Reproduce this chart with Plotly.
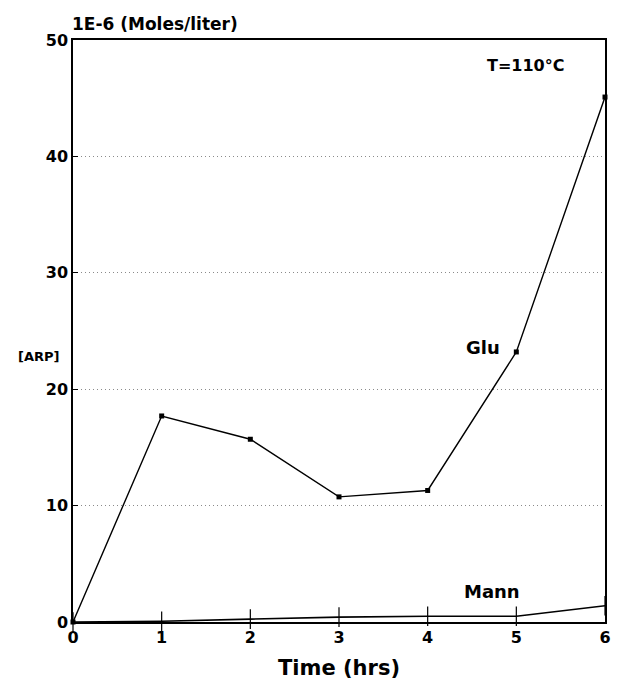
import plotly.graph_objects as go

hours = [0, 1, 2, 3, 4, 5, 6]
glu = [0.0, 17.7, 15.7, 10.75, 11.3, 23.2, 45.1]
mann = [0.0, 0.07, 0.25, 0.42, 0.5, 0.5, 1.4]
y_ticks = [0, 10, 20, 30, 40, 50]

FONT = "DejaVu Sans"

fig = go.Figure()
fig.add_trace(go.Scatter(
    x=hours, y=mann, mode="lines+markers",
    line=dict(color="black", width=1.6),
    marker=dict(symbol="line-ns", size=14, line=dict(color="black", width=1.2)),
    showlegend=False, cliponaxis=False))
fig.add_trace(go.Scatter(
    x=hours, y=glu, mode="lines+markers",
    line=dict(color="black", width=1.4),
    marker=dict(symbol="square", size=5, color="black"),
    showlegend=False, cliponaxis=False))

fig.update_layout(
    width=618, height=695,
    margin=dict(l=73, r=7, t=40, b=73),
    paper_bgcolor="white", plot_bgcolor="white",
    font=dict(family=FONT, color="black"),
    xaxis=dict(
        range=[0, 6], tickvals=hours, ticktext=[str(h) for h in hours],
        showgrid=False, zeroline=False, ticks="",
        showline=True, linecolor="black", linewidth=1.5, mirror=True,
        tickfont=dict(size=16, family=FONT, weight="bold"),
        title=dict(text="<b>Time (hrs)</b>", font=dict(size=21), standoff=14),
    ),
    yaxis=dict(
        range=[0, 50], tickvals=y_ticks, ticktext=[str(v) for v in y_ticks],
        showgrid=True, gridcolor="#8a8a8a", griddash="1px,3px", gridwidth=1,
        zeroline=False, ticks="inside", ticklen=5, tickcolor="black",
        showline=True, linecolor="black", linewidth=1.5, mirror=True,
        tickfont=dict(size=16, family=FONT, weight="bold"),
    ),
    annotations=[
        dict(text="<b>1E-6 (Moles/liter)</b>", xref="paper", yref="paper",
             x=0, y=1, xanchor="left", yanchor="middle", yshift=16, xshift=-3,
             showarrow=False, font=dict(size=17)),
        dict(text="<b>[ARP]</b>", xref="paper", yref="y", x=0, y=22.8,
             xanchor="right", yanchor="middle", xshift=-12, showarrow=False,
             font=dict(size=13)),
        dict(text="<b>T=110°C</b>", xref="x", yref="y", x=5.1, y=47.85,
             xanchor="center", yanchor="middle", showarrow=False, font=dict(size=16)),
        dict(text="<b>Glu</b>", xref="x", yref="y", x=4.62, y=23.6,
             xanchor="center", yanchor="middle", showarrow=False, font=dict(size=18)),
        dict(text="<b>Mann</b>", xref="x", yref="y", x=4.73, y=2.6,
             xanchor="center", yanchor="middle", showarrow=False, font=dict(size=18)),
    ],
)

fig.write_html("out.html")
